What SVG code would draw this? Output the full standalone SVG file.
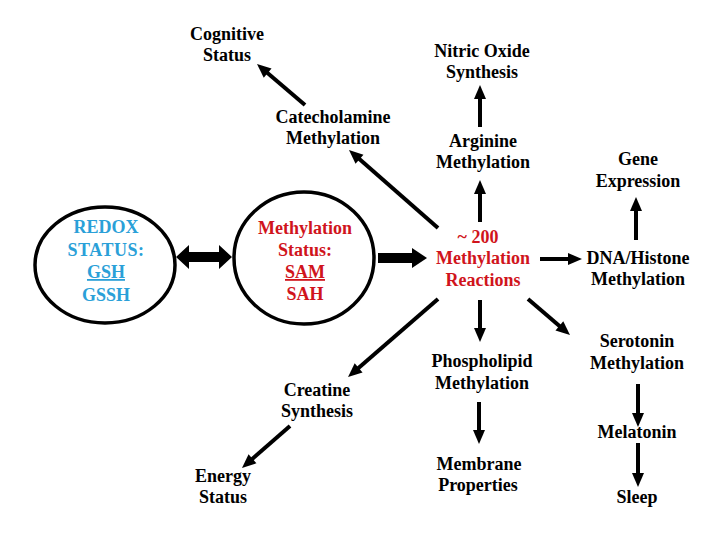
<svg xmlns="http://www.w3.org/2000/svg" width="720" height="540" viewBox="0 0 720 540">
<style>
text{font-family:"Liberation Serif","Times New Roman","DejaVu Serif",serif;font-weight:700;font-size:18px;text-anchor:middle;fill:#000}
.blue{fill:#2aa0d8}
.red{fill:#d0141c}
.ring{fill:none;stroke:#000;stroke-width:3.5}
.ln{stroke:#000;stroke-width:4;fill:none;marker-end:url(#ah)}
.u{text-decoration:underline}
</style>
<defs>
<marker id="ah" markerUnits="userSpaceOnUse" markerWidth="14" markerHeight="12" refX="4" refY="6" orient="auto" overflow="visible">
<path d="M0,0 L14,6 L0,12 z" fill="#000"/>
</marker>
</defs>
<rect width="720" height="540" fill="#fff"/>

<g id="connectors">
<line class="ln" x1="305" y1="105" x2="264.6" y2="70.5"/>
<line class="ln" x1="438" y1="228" x2="356.5" y2="156.6"/>
<line class="ln" x1="480" y1="127" x2="480" y2="95"/>
<line class="ln" x1="480" y1="222" x2="480" y2="190"/>
<line class="ln" x1="636" y1="240" x2="636" y2="207"/>
<line class="ln" x1="540" y1="259" x2="572" y2="259"/>
<line class="ln" x1="480" y1="300" x2="480" y2="332"/>
<line class="ln" x1="528" y1="299" x2="562.4" y2="328.5"/>
<line class="ln" x1="438" y1="299" x2="355.6" y2="370.5"/>
<line class="ln" x1="290" y1="426" x2="249.5" y2="461.4"/>
<line class="ln" x1="479" y1="402" x2="479" y2="434"/>
<line class="ln" x1="638" y1="384" x2="638" y2="417"/>
<line class="ln" x1="638" y1="443" x2="638" y2="477"/>
<polygon points="176,257 189,245 189,252 219,252 219,245 232,257 219,269 219,262 189,262 189,269" fill="#000"/>
<polygon points="378,253 412,253 412,248 427,258 412,268 412,263 378,263" fill="#000"/>
</g>

<g id="redox">
<ellipse class="ring" cx="105" cy="265" rx="70" ry="58"/>
<text class="blue" x="106" y="233">REDOX</text>
<text class="blue" x="106" y="256" letter-spacing="0.5">STATUS:</text>
<text class="blue u" x="106" y="278">GSH</text>
<text class="blue" x="106" y="301">GSSH</text>
</g>

<g id="methylation-status">
<ellipse class="ring" cx="304" cy="258" rx="70" ry="66"/>
<text class="red" x="305" y="234">Methylation</text>
<text class="red" x="305" y="256">Status:</text>
<text class="red u" x="305" y="278">SAM</text>
<text class="red" x="305" y="300">SAH</text>
</g>

<g id="reactions">
<text class="red" x="478" y="243">~ 200</text>
<text class="red" x="483" y="264">Methylation</text>
<text class="red" x="483" y="286">Reactions</text>
</g>

<g id="cognitive"><text x="227" y="40">Cognitive</text><text x="227" y="61">Status</text></g>
<g id="catecholamine"><text x="333" y="123">Catecholamine</text><text x="333" y="144">Methylation</text></g>
<g id="nitric"><text x="482" y="57">Nitric Oxide</text><text x="482" y="78">Synthesis</text></g>
<g id="arginine"><text x="483" y="147">Arginine</text><text x="483" y="168">Methylation</text></g>
<g id="gene"><text x="638" y="165">Gene</text><text x="638" y="187">Expression</text></g>
<g id="dna"><text x="638" y="264">DNA/Histone</text><text x="638" y="285">Methylation</text></g>
<g id="phospholipid"><text x="482" y="367">Phospholipid</text><text x="482" y="389">Methylation</text></g>
<g id="membrane"><text x="479" y="470">Membrane</text><text x="478" y="491">Properties</text></g>
<g id="serotonin"><text x="637" y="347">Serotonin</text><text x="637" y="369">Methylation</text></g>
<g id="melatonin"><text x="637" y="438">Melatonin</text></g>
<g id="sleep"><text x="637" y="503">Sleep</text></g>
<g id="creatine"><text x="317" y="396">Creatine</text><text x="317" y="417">Synthesis</text></g>
<g id="energy"><text x="223" y="482">Energy</text><text x="223" y="503">Status</text></g>
</svg>
